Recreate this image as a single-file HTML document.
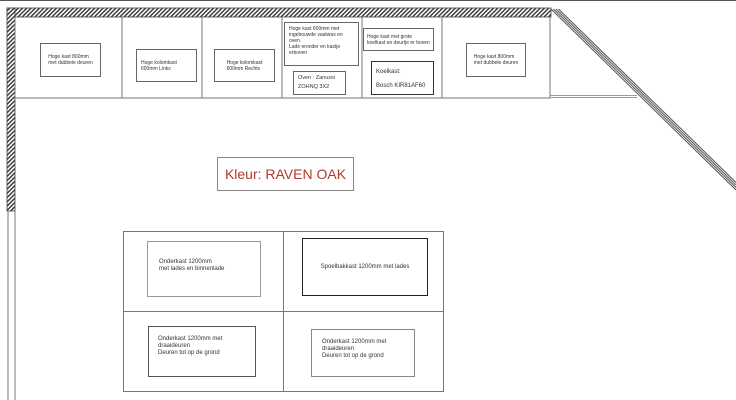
<!DOCTYPE html>
<html><head><style>
body{margin:0;width:736px;height:400px;background:#fff;position:relative;overflow:hidden;font-family:"Liberation Sans",sans-serif;}
.b{position:absolute;box-sizing:border-box;border:1px solid #666;font-size:5px;line-height:6px;color:#333;}
.c{display:flex;align-items:center;justify-content:center;}
.l{font-size:6px;line-height:7px;}
</style></head><body>
<svg width="736" height="400" style="position:absolute;left:0;top:0">
<defs><pattern id="h" width="3" height="3" patternUnits="userSpaceOnUse" patternTransform="rotate(45)"><rect width="3" height="3" fill="#fff"/><rect width="1.4" height="3" fill="#333"/></pattern></defs>
<line x1="0" y1="0.5" x2="736" y2="0.5" stroke="#555" stroke-width="1"/>
<rect x="7" y="8" width="544" height="9" fill="url(#h)" stroke="#444" stroke-width="0.8"/>
<rect x="7" y="8" width="8" height="203" fill="url(#h)" stroke="#444" stroke-width="0.8"/>
<line x1="8" y1="211" x2="8" y2="400" stroke="#777"/>
<line x1="15" y1="211" x2="15" y2="400" stroke="#777"/>
<g stroke="#555" stroke-width="1">
<line x1="551" y1="9" x2="736" y2="190"/>
<line x1="553.5" y1="9" x2="736" y2="187.5"/>
<line x1="556" y1="9" x2="736" y2="185"/>
<line x1="558.5" y1="9" x2="736" y2="182.5"/>
</g>
<polyline points="15,17 15,98 550,98 550,17" fill="none" stroke="#777"/>
<g stroke="#777"><line x1="122" y1="17" x2="122" y2="98"/><line x1="202" y1="17" x2="202" y2="98"/><line x1="282" y1="17" x2="282" y2="98"/><line x1="362" y1="17" x2="362" y2="98"/><line x1="442" y1="17" x2="442" y2="98"/></g>
<line x1="550" y1="95.5" x2="637" y2="95.5" stroke="#99a"/>
<line x1="550" y1="97.5" x2="637" y2="97.5" stroke="#99a"/>
<rect x="123.5" y="231.5" width="320" height="160" fill="none" stroke="#777"/>
<line x1="283.5" y1="231" x2="283.5" y2="392" stroke="#778"/>
<line x1="123" y1="311.5" x2="444" y2="311.5" stroke="#778"/>
</svg>
<div class="b c" style="left:40px;top:43px;width:61px;height:34px;">Hoge kast 800mm<br>met dubbele deuren</div>
<div class="b c" style="left:136px;top:49px;width:61px;height:33px;justify-content:flex-start;padding-left:4px">Hoge kolomkast<br>600mm Links</div>
<div class="b c" style="left:214px;top:49px;width:61px;height:33px;">Hoge kolomkast<br>600mm Rechts</div>
<div class="b" style="left:284px;top:22px;width:75px;height:44px;padding:3px 4px">Hoge kast 600mm met ingebouwde vaatwas en oven.<br>Lade eronder en kastje erboven</div>
<div class="b" style="left:293px;top:71px;width:53px;height:24px;padding:2px 4px;font-size:5.5px;line-height:9px">Oven : Zanussi<br>ZOHNQ 3X2</div>
<div class="b" style="left:363px;top:28px;width:71px;height:23px;padding:5px 3px">Hoge kast met grote koelkast en deurtje er boven</div>
<div class="b" style="left:371px;top:61px;width:63px;height:34px;padding:3px 4px;font-size:6px;line-height:14px;border-color:#333">Koelkast:<br>Bosch KIR81AF60</div>
<div class="b c" style="left:466px;top:43px;width:60px;height:34px;">Hoge kast 800mm<br>met dubbele deuren</div>
<div class="b c" style="left:217px;top:157px;width:137px;height:34px;border-color:#888;color:#b03a2e;font-size:14px;">Kleur: RAVEN OAK</div>
<div class="b l" style="left:147px;top:241px;width:114px;height:56px;padding:17px 11px;border-color:#999">Onderkast 1200mm<br>met lades en binnenlade</div>
<div class="b c l" style="left:302px;top:238px;width:126px;height:58px;border-color:#222">Spoelbakkast 1200mm met lades</div>
<div class="b l" style="left:148px;top:326px;width:108px;height:51px;padding:9px 9px;border-color:#555">Onderkast 1200mm met<br>draaideuren<br>Deuren tot op de grond</div>
<div class="b l" style="left:311px;top:329px;width:104px;height:48px;padding:9px 10px;border-color:#888">Onderkast 1200mm met<br>draaideuren<br>Deuren tot op de grond</div>
</body></html>
